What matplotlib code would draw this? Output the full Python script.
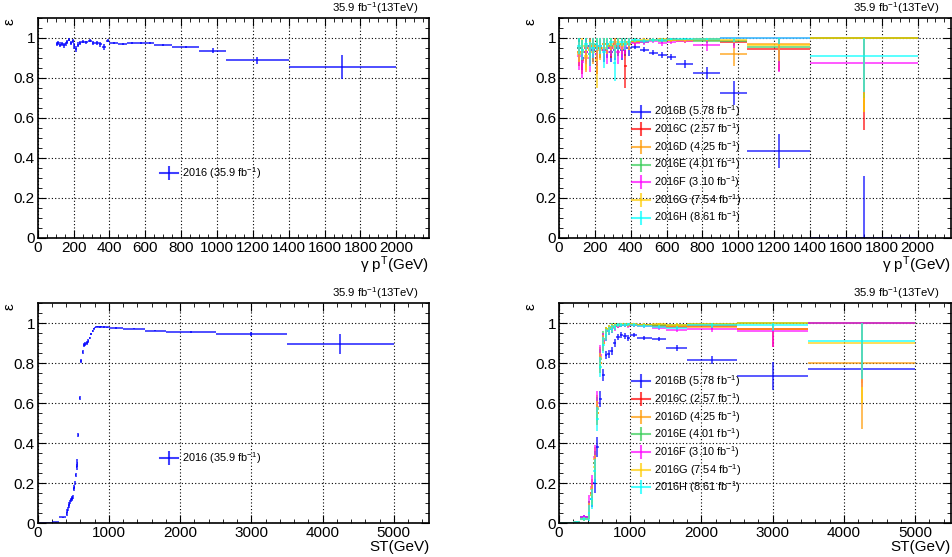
import numpy as np
import matplotlib
matplotlib.use("Agg")
import matplotlib.pyplot as plt
from matplotlib.ticker import MultipleLocator, FuncFormatter
from matplotlib.lines import Line2D

plt.rcParams['font.family'] = ['Liberation Sans', 'DejaVu Sans']
plt.rcParams['mathtext.fontset'] = 'custom'
plt.rcParams['mathtext.rm'] = 'Liberation Sans'
plt.rcParams['mathtext.it'] = 'Liberation Sans:italic'

# ---- photon pT, combined 2016 ----
pt_edges = [100,110,120,130,140,150,160,170,180,190,200,210,220,230,240,260,280,300,
            320,340,360,380,400,450,500,550,600,650,750,900,1050,1400,2000]
pt_all = [0.97,0.975,0.965,0.97,0.962,0.97,0.978,0.99,0.975,0.985,0.96,0.945,0.965,0.975,
          0.98,0.978,0.985,0.975,0.972,0.968,0.955,0.985,0.972,0.970,0.975,0.975,0.972,
          0.962,0.955,0.935,0.887,0.853]
pt_all_err = [0.01,0.01,0.012,0.01,0.012,0.01,0.01,0.008,0.01,0.01,0.015,0.015,0.012,0.01,
              0.008,0.008,0.008,0.01,0.01,0.012,0.015,0.008,0.005,0.005,0.004,0.004,0.005,
              0.005,0.006,0.012,0.016,0.06]

# ---- photon pT, per era ----
era_pt_edges = [100,120,140,160,180,200,220,240,260,280,300,320,340,360,380,400,
                450,500,550,600,650,750,900,1050,1400,2000]
eras = ['2016B (5.78 fb$^{-1}$)', '2016C (2.57 fb$^{-1}$)', '2016D (4.25 fb$^{-1}$)',
        '2016E (4.01 fb$^{-1}$)', '2016F (3.10 fb$^{-1}$)', '2016G (7.54 fb$^{-1}$)',
        '2016H (8.61 fb$^{-1}$)']
era_colors = ['#0000ff', '#ff0000', '#ff9900', '#33cc55', '#ff00ff', '#ffcc00', '#00ffff']

pt_B = [0.95,0.90,0.93,0.96,0.94,0.92,0.95,0.94,0.95,0.93,0.94,0.95,0.94,0.95,0.95,
        0.955,0.94,0.925,0.915,0.905,0.87,0.825,0.725,0.435,0.0]
pt_B_err = [0.04,0.06,0.05,0.05,0.06,0.06,0.05,0.06,0.05,0.05,0.05,0.04,0.05,0.04,0.04,
            0.01,0.012,0.012,0.015,0.015,0.02,0.03,0.06,0.085,0.31]
pt_C = [0.93,0.89,0.95,0.92,0.96,0.90,0.95,0.97,0.96,0.95,0.97,0.96,0.97,0.86,0.97,
        0.98,0.985,0.99,0.99,0.995,0.99,0.995,0.98,0.945,1.0]
pt_C_err = [0.07,0.07,0.05,0.06,0.04,0.08,0.05,0.04,0.04,0.05,0.03,0.04,0.03,0.11,0.03,
            0.015,0.012,0.01,0.01,0.008,0.01,0.01,0.02,0.11,0.46]
pt_D = [0.92,0.94,0.90,0.95,0.93,0.96,0.94,0.95,0.97,0.96,0.95,0.97,0.96,0.97,0.98,
        0.98,0.985,0.99,0.99,0.99,0.985,0.99,0.92,0.97,1.0]
pt_D_err = [0.06,0.05,0.07,0.05,0.06,0.05,0.05,0.04,0.03,0.04,0.05,0.03,0.04,0.03,0.02,
            0.015,0.012,0.01,0.01,0.01,0.012,0.012,0.06,0.1,0.37]
pt_E = [0.95,0.93,0.96,0.94,0.97,0.95,0.96,0.94,0.97,0.96,0.98,0.95,0.97,0.98,0.97,
        0.985,0.98,0.99,0.985,0.99,0.99,0.985,0.985,0.955,1.0]
pt_E_err = [0.05,0.06,0.04,0.05,0.04,0.05,0.04,0.05,0.03,0.04,0.02,0.04,0.03,0.02,0.03,
            0.012,0.012,0.01,0.01,0.01,0.01,0.012,0.02,0.08,0.3]
pt_F = [0.91,0.88,0.93,0.90,0.95,0.92,0.96,0.94,0.93,0.95,0.96,0.93,0.95,0.96,0.97,
        0.975,0.98,0.985,0.975,0.98,0.985,0.965,1.0,1.0,0.875]
pt_F_err = [0.07,0.08,0.06,0.07,0.05,0.06,0.04,0.05,0.06,0.04,0.04,0.06,0.05,0.04,0.03,
            0.015,0.015,0.012,0.015,0.012,0.012,0.03,0.05,0.17,0.15]
pt_G = [0.93,0.96,0.91,0.94,0.96,0.89,0.95,0.97,0.96,0.97,0.96,0.98,0.97,0.98,0.97,
        0.985,0.99,0.99,0.995,0.99,0.99,0.995,0.99,0.965,1.0]
pt_G_err = [0.05,0.04,0.07,0.05,0.04,0.14,0.05,0.03,0.04,0.03,0.04,0.02,0.03,0.02,0.03,
            0.012,0.01,0.01,0.008,0.01,0.01,0.01,0.015,0.08,0.37]
pt_H = [0.96,0.94,0.97,0.92,0.95,0.97,0.96,0.93,0.97,0.98,0.875,0.97,0.98,0.97,0.98,
        0.99,0.985,0.99,0.99,0.995,0.995,0.995,1.0,1.0,0.91]
pt_H_err = [0.04,0.05,0.03,0.06,0.05,0.03,0.04,0.08,0.03,0.02,0.09,0.03,0.02,0.03,0.02,
            0.01,0.01,0.01,0.01,0.008,0.008,0.008,0.02,0.03,0.18]

# ---- ST, combined 2016 ----
st_edges = [0,200,300,400,410,420,430,440,450,460,470,480,490,500,510,520,530,540,550,560,
            580,600,620,640,660,680,700,720,740,760,780,800,820,840,860,880,900,950,1000,
            1200,1500,1800,2500,3500,5000]
st_all = [0.0,0.003,0.028,0.045,0.06,0.07,0.085,0.095,0.105,0.115,0.12,0.125,0.13,0.17,0.18,
          0.2,0.24,0.28,0.3,0.44,0.625,0.81,0.855,0.89,0.895,0.9,0.91,0.925,0.945,0.96,
          0.972,0.978,0.982,0.982,0.98,0.982,0.98,0.978,0.975,0.972,0.962,0.955,0.945,0.895]
st_all_err = [0.001,0.002,0.004,0.01,0.01,0.01,0.01,0.01,0.01,0.01,0.01,0.01,0.012,0.012,0.012,
              0.012,0.012,0.015,0.02,0.012,0.012,0.012,0.01,0.008,0.008,0.008,0.008,0.007,
              0.006,0.005,0.004,0.004,0.004,0.004,0.004,0.004,0.003,0.003,0.003,0.003,0.004,
              0.005,0.01,0.05]

# ---- ST, per era ----
era_st_edges = [0,200,300,400,440,480,520,560,600,640,680,720,760,800,850,900,950,1000,
                1100,1300,1500,1800,2500,3500,5000]
st_B = [0.0,0.003,0.03,0.08,0.12,0.2,0.38,0.62,0.74,0.84,0.845,0.86,0.9,0.93,0.94,0.935,
        0.925,0.94,0.925,0.92,0.875,0.815,0.735,0.77]
st_B_err = [0.001,0.005,0.01,0.03,0.04,0.05,0.05,0.04,0.03,0.02,0.02,0.02,0.02,0.015,0.015,
            0.015,0.015,0.012,0.01,0.012,0.015,0.02,0.07,0.04]
st_C = [0.0,0.005,0.02,0.06,0.15,0.3,0.55,0.8,0.9,0.94,0.96,0.97,0.98,0.985,0.99,0.99,
        0.99,0.99,0.99,0.985,0.98,0.985,0.97,1.0]
st_C_err = [0.001,0.005,0.01,0.04,0.05,0.06,0.06,0.05,0.04,0.03,0.02,0.02,0.015,0.01,0.01,
            0.01,0.01,0.008,0.008,0.01,0.012,0.015,0.09,0.3]
st_D = [0.0,0.004,0.02,0.07,0.17,0.32,0.58,0.83,0.91,0.95,0.96,0.975,0.98,0.99,0.99,0.99,
        0.995,0.99,0.99,0.99,0.985,0.98,0.97,0.8]
st_D_err = [0.001,0.005,0.01,0.04,0.05,0.06,0.06,0.05,0.04,0.03,0.02,0.02,0.015,0.01,0.01,
            0.01,0.01,0.008,0.008,0.01,0.012,0.015,0.03,0.33]
st_E = [0.0,0.003,0.025,0.07,0.14,0.3,0.57,0.82,0.92,0.95,0.97,0.98,0.985,0.99,0.99,0.995,
        0.99,0.995,0.99,0.99,0.99,0.995,1.0,1.0]
st_E_err = [0.001,0.005,0.01,0.04,0.05,0.06,0.06,0.05,0.04,0.03,0.02,0.02,0.015,0.01,0.01,
            0.01,0.01,0.008,0.008,0.01,0.012,0.015,0.03,0.27]
st_F = [0.0,0.004,0.03,0.09,0.18,0.33,0.6,0.84,0.91,0.94,0.96,0.97,0.975,0.985,0.99,0.99,
        0.985,0.99,0.985,0.975,0.965,0.97,0.96,1.0]
st_F_err = [0.001,0.005,0.01,0.05,0.06,0.06,0.06,0.05,0.04,0.03,0.02,0.02,0.015,0.01,0.01,
            0.01,0.01,0.008,0.008,0.01,0.012,0.015,0.08,0.32]
st_G = [0.0,0.003,0.02,0.06,0.14,0.28,0.55,0.8,0.9,0.95,0.97,0.975,0.985,0.99,0.995,0.995,
        0.99,0.995,0.99,0.995,0.99,0.995,1.0,0.9]
st_G_err = [0.001,0.005,0.01,0.04,0.05,0.06,0.06,0.05,0.04,0.03,0.02,0.02,0.015,0.01,0.01,
            0.01,0.01,0.008,0.008,0.01,0.012,0.015,0.03,0.3]
st_H = [0.0,0.003,0.02,0.05,0.12,0.26,0.52,0.78,0.89,0.94,0.96,0.97,0.98,0.99,0.99,0.99,
        0.995,0.99,0.985,0.98,0.975,0.99,0.99,0.91]
st_H_err = [0.001,0.005,0.01,0.04,0.05,0.06,0.06,0.05,0.04,0.03,0.02,0.02,0.015,0.01,0.01,
            0.01,0.01,0.008,0.008,0.01,0.012,0.015,0.03,0.19]

pt_eras = [(pt_B, pt_B_err), (pt_C, pt_C_err), (pt_D, pt_D_err), (pt_E, pt_E_err),
           (pt_F, pt_F_err), (pt_G, pt_G_err), (pt_H, pt_H_err)]
st_eras = [(st_B, st_B_err), (st_C, st_C_err), (st_D, st_D_err), (st_E, st_E_err),
           (st_F, st_F_err), (st_G, st_G_err), (st_H, st_H_err)]


def draw(ax, edges, vals, errs, color, alpha=0.75):
    edges = np.array(edges, dtype=float)
    vals = np.array(vals)
    errs = np.array(errs)
    x = 0.5 * (edges[1:] + edges[:-1])
    xe = 0.5 * (edges[1:] - edges[:-1])
    lo = np.minimum(errs, vals)
    hi = np.minimum(errs, 1 - vals)
    ax.errorbar(x, vals, xerr=xe, yerr=[lo, hi], fmt='none', ecolor=color,
                elinewidth=1.3, capsize=0, alpha=alpha)


def cross(color, alpha):
    # legend symbol: horizontal line with vertical bar, like ROOT "lep"
    return Line2D([], [], color=color, lw=1.5, marker='|', markersize=10.5,
                  markeredgewidth=1.5, alpha=alpha)


def add_legend(ax, handles, labels, anchor, loc):
    ax.legend(handles, labels, loc=loc, bbox_to_anchor=anchor, frameon=False,
              fontsize=7.9, handlelength=1.65, handletextpad=0.35, labelspacing=0.17,
              borderpad=0, borderaxespad=0)


def style(ax, xmax, xmajor, xminor, xlabel):
    ax.set_xlim(0, xmax)
    ax.set_ylim(0, 1.1)
    ax.xaxis.set_major_locator(MultipleLocator(xmajor))
    ax.xaxis.set_minor_locator(MultipleLocator(xminor))
    ax.yaxis.set_major_locator(MultipleLocator(0.2))
    ax.yaxis.set_minor_locator(MultipleLocator(0.05))
    ax.yaxis.set_major_formatter(FuncFormatter(lambda v, p: '%g' % round(v, 2)))
    ax.tick_params(which='both', direction='in', top=True, right=True, labelsize=11, pad=2)
    ax.tick_params(which='major', length=5.5)
    ax.tick_params(which='minor', length=3)
    ax.grid(True, which='major', linestyle=(0, (1, 2)), color='black', linewidth=0.8)
    for s in ax.spines.values():
        s.set_linewidth(1.2)
    ax.set_xlabel(xlabel, loc='right', fontsize=11, labelpad=0)
    ax.text(-0.072, 1.0, 'ε', transform=ax.transAxes, rotation=90,
            ha='center', va='top', fontsize=11)
    ax.text(0.972, 1.01, r'35.9 fb$^{-1}$(13TeV)', transform=ax.transAxes,
            ha='right', va='bottom', fontsize=8.2)


fig = plt.figure(figsize=(9.53, 5.57), dpi=100)
w = 0.411
h = 0.395
ax1 = fig.add_axes([0.0396, 0.573, w, h])
ax2 = fig.add_axes([0.5866, 0.573, w, h])
ax3 = fig.add_axes([0.0396, 0.061, w, h])
ax4 = fig.add_axes([0.5866, 0.061, w, h])

pt_label = r'γ p$^{\mathrm{T}}$(GeV)'
all_label = ['2016 (35.9 fb$^{-1}$)']

draw(ax1, pt_edges, pt_all, pt_all_err, '#0000ff')
style(ax1, 2185, 200, 50, pt_label)
add_legend(ax1, [cross('#0000ff', 0.75)], all_label, (0.312, 0.295), 'center left')

for (v, e), c in zip(pt_eras, era_colors):
    draw(ax2, era_pt_edges, v, e, c, alpha=0.7)
style(ax2, 2185, 200, 50, pt_label)
add_legend(ax2, [cross(c, 0.7) for c in era_colors], eras, (0.186, 0.61), 'upper left')

draw(ax3, st_edges, st_all, st_all_err, '#0000ff')
style(ax3, 5500, 1000, 200, 'ST(GeV)')
add_legend(ax3, [cross('#0000ff', 0.75)], all_label, (0.312, 0.295), 'center left')

for (v, e), c in zip(st_eras, era_colors):
    draw(ax4, era_st_edges, v, e, c, alpha=0.7)
style(ax4, 5500, 1000, 200, 'ST(GeV)')
add_legend(ax4, [cross(c, 0.7) for c in era_colors], eras, (0.186, 0.68), 'upper left')

fig.savefig('out.png', dpi=100)
